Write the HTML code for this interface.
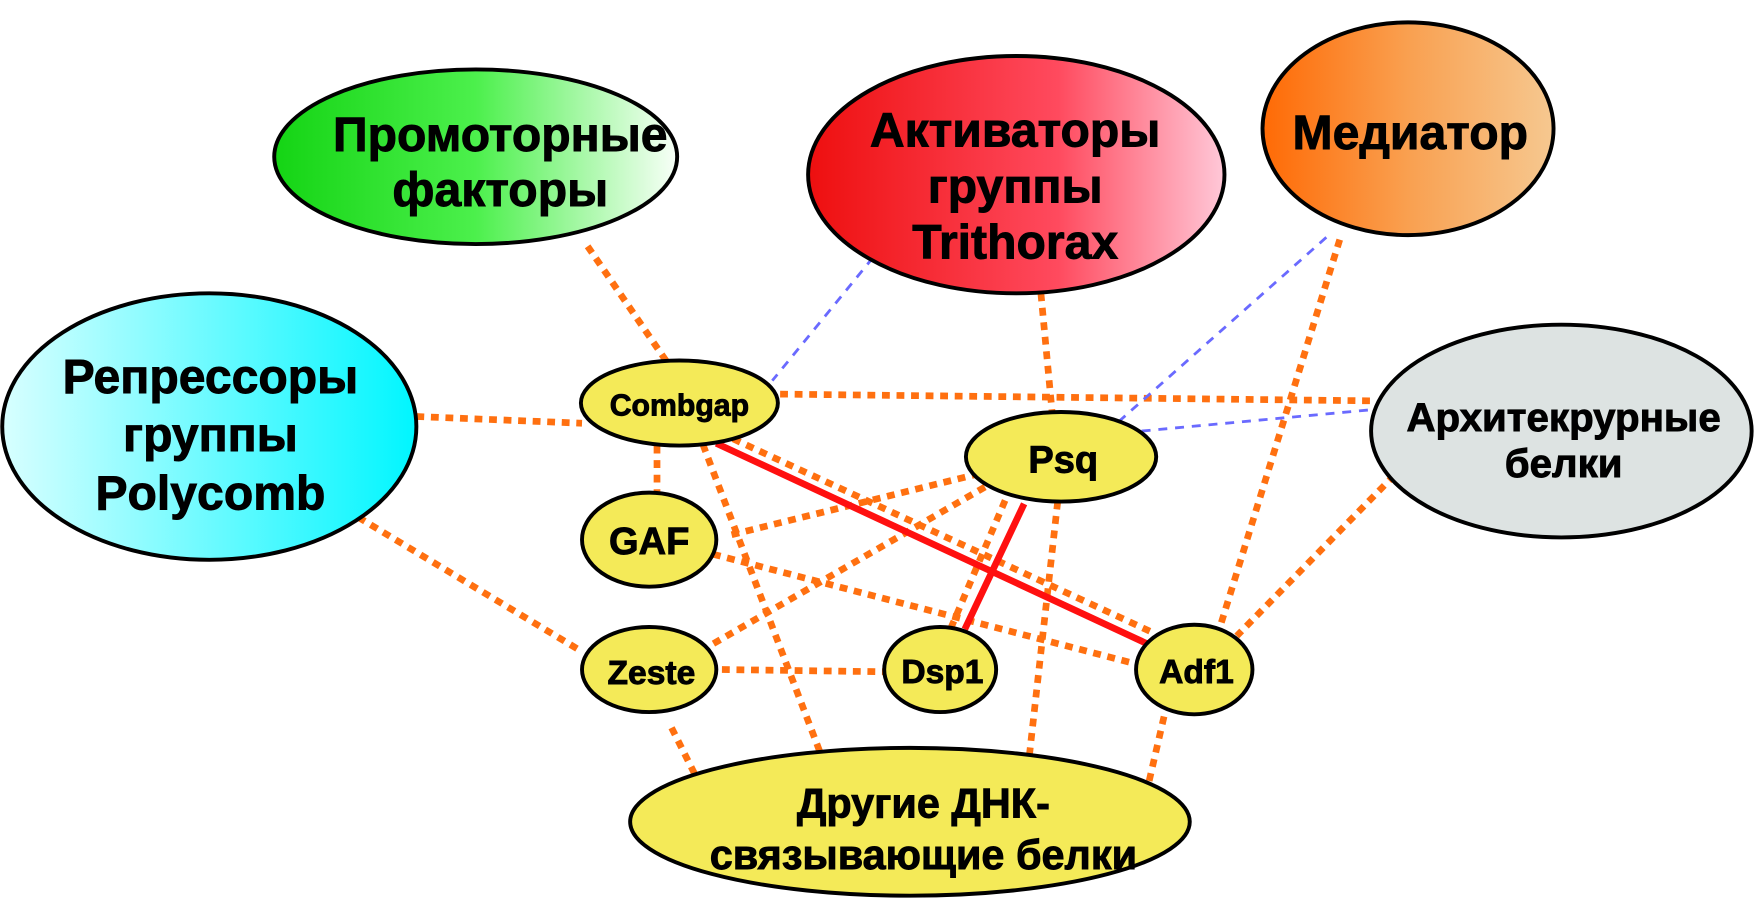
<!DOCTYPE html>
<html><head><meta charset="utf-8"><style>html,body{margin:0;padding:0;background:#fff}svg{display:block}</style></head>
<body>
<svg width="1755" height="908" viewBox="0 0 1568 811" preserveAspectRatio="none" xmlns="http://www.w3.org/2000/svg" font-family="Liberation Sans, Arial, sans-serif" font-weight="bold">
<defs>
<linearGradient id="gG" x1="0" x2="1"><stop offset="0" stop-color="#14d414"/><stop offset="0.5" stop-color="#4cf04c"/><stop offset="1" stop-color="#f8fff8"/></linearGradient>
<linearGradient id="gR" x1="0" x2="1"><stop offset="0" stop-color="#ee0f0f"/><stop offset="0.6" stop-color="#ff4a5e"/><stop offset="1" stop-color="#ffc8d8"/></linearGradient>
<linearGradient id="gO" x1="0" x2="1"><stop offset="0" stop-color="#ff6a05"/><stop offset="0.5" stop-color="#f9a050"/><stop offset="1" stop-color="#f6c890"/></linearGradient>
<linearGradient id="gC" x1="0" x2="1"><stop offset="0" stop-color="#d8ffff"/><stop offset="1" stop-color="#00f6ff"/></linearGradient>
</defs>
<g stroke="#ff7010" stroke-width="6" stroke-dasharray="7 6" fill="none">
<line x1="525" y1="220" x2="597" y2="325"/>
<line x1="372" y1="372" x2="520" y2="378"/>
<line x1="697" y1="352" x2="1225" y2="358"/>
<line x1="320" y1="462" x2="520" y2="582"/>
<line x1="587" y1="398" x2="587" y2="440"/>
<line x1="628" y1="397" x2="735" y2="678"/>
<line x1="655" y1="392" x2="1030" y2="565"/>
<line x1="637" y1="495" x2="1015" y2="593"/>
<line x1="875" y1="423" x2="652" y2="478"/>
<line x1="880" y1="435" x2="632" y2="578"/>
<line x1="930" y1="262" x2="940" y2="368"/>
<line x1="1197" y1="214" x2="1090" y2="560"/>
<line x1="1255" y1="415" x2="1105" y2="568"/>
<line x1="645" y1="598" x2="790" y2="600"/>
<line x1="600" y1="650" x2="625" y2="700"/>
<line x1="1040" y1="640" x2="1025" y2="705"/>
<line x1="945" y1="448" x2="918" y2="690"/>
<line x1="898" y1="447" x2="850" y2="560"/>
</g>
<g stroke="#6a6aff" stroke-width="2.5" stroke-dasharray="8 7" fill="none">
<line x1="780" y1="230" x2="690" y2="340"/>
<line x1="1185" y1="212" x2="990" y2="385"/>
<line x1="1020" y1="385" x2="1225" y2="366"/>
</g>
<g stroke="#ff1010" stroke-width="6" fill="none">
<line x1="640" y1="396" x2="1025" y2="575"/>
<line x1="915" y1="450" x2="862" y2="562"/>
</g>
<g stroke="#000" stroke-width="3.5">
<ellipse cx="425" cy="140" rx="180" ry="78" fill="url(#gG)"/>
<ellipse cx="908" cy="156" rx="186" ry="106" fill="url(#gR)"/>
<ellipse cx="1258" cy="115" rx="130" ry="95" fill="url(#gO)"/>
<ellipse cx="187" cy="381" rx="185" ry="119" fill="url(#gC)"/>
<ellipse cx="1395" cy="385" rx="170" ry="95" fill="#dde3e2"/>
<ellipse cx="813" cy="734" rx="250" ry="66" fill="#f4ea58"/>
<ellipse cx="607" cy="360" rx="88" ry="38" fill="#f4ea58"/>
<ellipse cx="948" cy="408" rx="85" ry="40" fill="#f4ea58"/>
<ellipse cx="580" cy="482" rx="60" ry="42" fill="#f4ea58"/>
<ellipse cx="580" cy="598" rx="60" ry="38" fill="#f4ea58"/>
<ellipse cx="840" cy="598" rx="50" ry="38" fill="#f4ea58"/>
<ellipse cx="1067" cy="598" rx="52" ry="40" fill="#f4ea58"/>
</g>
<g fill="#000" text-anchor="middle" font-size="43" stroke="#000" stroke-width="0.8">
<text x="447" y="135">Промоторные</text>
<text x="447" y="184">факторы</text>
<text x="907" y="131">Активаторы</text>
<text x="907" y="181">группы</text>
<text x="907" y="231">Trithorax</text>
<text x="1260" y="133">Медиатор</text>
<text x="188" y="351">Репрессоры</text>
<text x="188" y="403">группы</text>
<text x="188" y="455">Polycomb</text>
<text x="1397" y="385" font-size="36">Архитекрурные</text>
<text x="1397" y="426" font-size="36">белки</text>
<text x="825" y="730" font-size="37">Другие ДНК-</text>
<text x="825" y="776" font-size="37">связывающие белки</text>
<text x="607" y="371" font-size="27">Combgap</text>
<text x="950" y="422" font-size="34">Psq</text>
<text x="580" y="495" font-size="34">GAF</text>
<text x="582" y="611" font-size="30">Zeste</text>
<text x="842" y="610" font-size="30">Dsp1</text>
<text x="1069" y="610" font-size="30">Adf1</text>
</g>
</svg>
</body></html>
